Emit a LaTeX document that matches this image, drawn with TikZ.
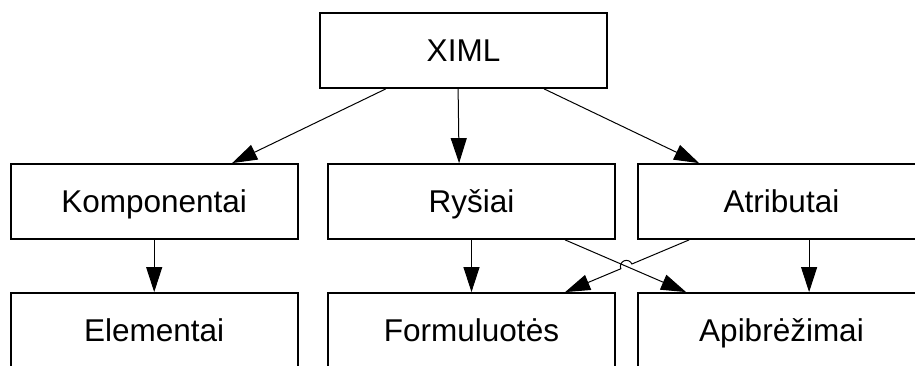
\documentclass[tikz,border=0pt]{standalone}
\usepackage{fontspec}
\setmainfont{Liberation Sans}
\usetikzlibrary{arrows.meta,calc}
\begin{document}
\begin{tikzpicture}[x=1pt,y=-1pt,
  box/.style={draw=black,line width=1.8pt,fill=white,minimum width=287pt,minimum height=75pt,
    inner sep=0pt,text height=22.5pt,text depth=0pt,font=\fontsize{31.5}{38}\selectfont},
  link/.style={draw=black,line width=1pt,-{Triangle[length=25pt,width=16pt]}}]
\useasboundingbox (0,0) rectangle (915,365);
\clip (0,0) rectangle (915,365);

% top level
\node[box] (ximl) at (463.5,50.5) {XIML};
% second level
\node[box] (komp) at (154.2,201.5) {Komponentai};
\node[box] (rys)  at (471.5,201.5) {Ryšiai};
\node[box] (atr)  at (781.5,201.5) {Atributai};
% third level
\node[box] (elem) at (154.2,330.5) {Elementai};
\node[box] (form) at (471.5,330.5) {Formuluotės};
\node[box] (apib) at (781.5,330.5) {Apibrėžimai};

% attachment points on the box edges
\coordinate (x1) at ($(ximl.south west)+(66.7,0)$);
\coordinate (x2) at ($(ximl.south west)+(139,0)$);
\coordinate (x3) at ($(ximl.south west)+(225,0)$);
\coordinate (k1) at ($(komp.north west)+(222.3,0)$);
\coordinate (r1) at ($(rys.north west)+(132,0)$);
\coordinate (a1) at ($(atr.north west)+(62,0)$);
\coordinate (r2) at ($(rys.south west)+(238,0)$);
\coordinate (p2) at ($(apib.north west)+(49,0)$);
\coordinate (a2) at ($(atr.south west)+(52,0)$);
\coordinate (f2) at ($(form.north west)+(238,0)$);
\coordinate (a3) at ($(atr.south west)+(172,0)$);
\coordinate (p3) at ($(apib.north west)+(172,0)$);

\draw[link] (x1) -- (k1);
\draw[link] (x2) -- (r1);
\draw[link] (x3) -- (a1);
\draw[link] (komp.south) -- (elem.north);
\draw[link] (rys.south) -- (form.north);
\draw[link] (r2) -- (p2);
\draw[link] (a3) -- (p3);

% crossing line with a line jump over (r2)--(p2)
\coordinate (cx) at ($(a2)!0.506!(f2)$);
\coordinate (hs) at ($(cx)!6pt!(a2)$);
\draw[link] (a2) -- (hs) arc[start angle=-23.3,end angle=-203.3,radius=6] -- (f2);
\end{tikzpicture}
\end{document}
